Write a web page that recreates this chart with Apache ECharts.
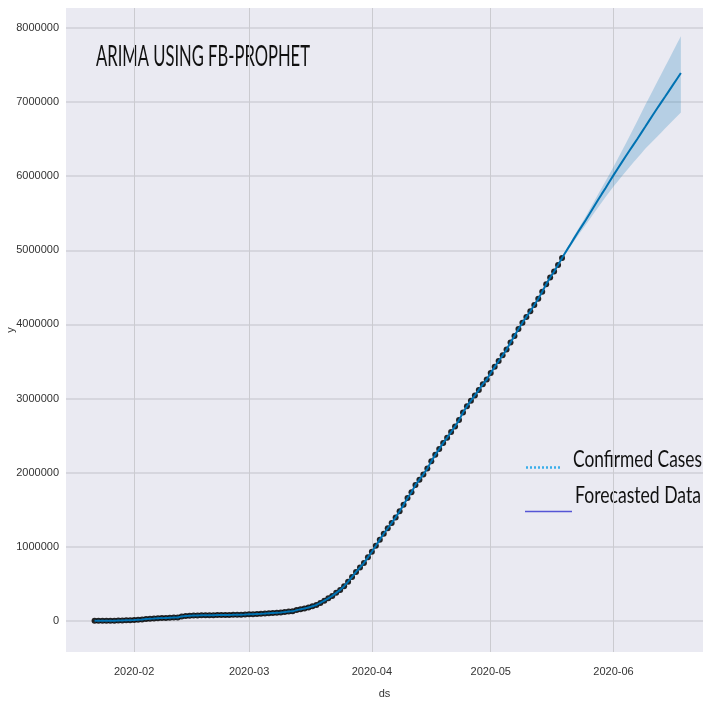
<!DOCTYPE html>
<html>
<head>
<meta charset="utf-8">
<script src="https://cdn.jsdelivr.net/npm/echarts@6/dist/echarts.min.js"></script>
<style>
html,body{margin:0;padding:0;background:#fff;}
#chart{width:703px;height:701px;}
</style>
</head>
<body>
<div id="chart"></div>
<script>
// ---- data ----
const startDate = [2020, 0, 22]; // first observed day (2020-01-22)
const confirmed = [555, 654, 941, 1434, 2118, 2927, 5578, 6166, 8234, 9927,
  12038, 16787, 19881, 23892, 27635, 30794, 34391, 37120, 40150, 42762,
  44802, 45221, 60368, 66885, 69030, 71224, 73258, 75136, 75639, 76197,
  76819, 78572, 78958, 79561, 80406, 81388, 82746, 84112, 86011,
  88369, 90306, 92840, 95120, 97886, 101801, 105847, 109821, 113590, 118620,
  125875, 128352, 145205, 156101, 167454, 181574, 197102, 214821, 242570, 272208,
  304507, 336953, 378235, 418045, 467653, 529591, 593291, 660693, 720140, 782389, 857487,
  932605, 1013466, 1095917, 1176060, 1249754, 1321481, 1396476, 1479804, 1565278, 1657526,
  1735650, 1834721, 1904838, 1976191, 2056054, 2152437, 2240190, 2317758, 2401378, 2472258,
  2549123, 2624068, 2708885, 2811193, 2896746, 2971475, 3041764, 3116398, 3193886, 3256846,
  3343777, 3427584, 3506729, 3583055, 3662691, 3755341, 3845718, 3938064, 4024009, 4101699,
  4177502, 4261747, 4347018, 4442163, 4542347, 4634068, 4713620, 4801943, 4897492];
// forecast (2020-05-20 .. 2020-06-18)
const forecast = [4985000, 5070000, 5158000, 5243000, 5327000, 5410000, 5497000, 5585000, 5672000, 5758000,
  5842000, 5928000, 6015000, 6098000, 6180000, 6262000, 6343000, 6423000, 6503000, 6585000,
  6667000, 6750000, 6832000, 6913000, 6993000, 7072000, 7152000, 7232000, 7312000, 7392000];
const forecastUpper = [5005000, 5097000, 5190000, 5281000, 5370000, 5460000, 5555000, 5650000, 5745000, 5840000,
  5935000, 6030000, 6128000, 6230000, 6330000, 6432000, 6535000, 6640000, 6745000, 6852000,
  6960000, 7063000, 7166000, 7270000, 7373000, 7476000, 7580000, 7683000, 7786000, 7890000];
const forecastLower = [4962000, 5040000, 5120000, 5196000, 5270000, 5344000, 5420000, 5497000, 5572000, 5645000,
  5718000, 5790000, 5860000, 5925000, 5992000, 6058000, 6120000, 6185000, 6246000, 6308000,
  6370000, 6425000, 6479000, 6534000, 6588000, 6643000, 6697000, 6752000, 6806000, 6860000];
const yTickStep = 1000000;
const titleText = 'ARIMA USING FB-PROPHET';
const legendLabels = ['Confirmed Cases', 'Forecasted Data'];

// ---- build ----
function dayTs(i) { return new Date(startDate[0], startDate[1], startDate[2] + i).getTime(); }
const nObs = confirmed.length;
const obsData = confirmed.map((v, i) => [dayTs(i), v]);
const lineData = confirmed.concat(forecast).map((v, i) => [dayTs(i), v]);
const bandLower = forecastLower.map((v, i) => [dayTs(nObs + i), v]);
const bandDiff = forecastUpper.map((v, i) => [dayTs(nObs + i), v - forecastLower[i]]);

const xMin = new Date(2020, 0, 14, 19).getTime();
const xMax = new Date(2020, 5, 23, 14).getTime();

function fitScale(text, font, w) {
  const c = document.createElement('canvas').getContext('2d');
  c.font = font;
  return w / c.measureText(text).width;
}
const titleFont = '28px Lato';
const legFont = '24px Lato';
const tickFont = 'Liberation Sans';

const chart = echarts.init(document.getElementById('chart'), null, {renderer: 'canvas'});
chart.setOption({
  animation: false,
  backgroundColor: '#ffffff',
  grid: {left: 66, right: 0, top: 8, bottom: 49, show: true, backgroundColor: '#EAEAF2', borderWidth: 0,
         containLabel: false, outerBoundsMode: 'none'},
  xAxis: {
    type: 'time', min: xMin, max: xMax,
    minInterval: 28 * 86400000, maxInterval: 31 * 86400000,
    name: 'ds', nameLocation: 'middle', nameGap: 36, nameMoveOverlap: false,
    nameTextStyle: {fontFamily: tickFont, fontSize: 11, color: '#333'},
    axisLine: {show: false}, axisTick: {show: false},
    axisLabel: {
      fontFamily: tickFont, fontSize: 11, color: '#333', margin: 14,
      showMinLabel: false, showMaxLabel: false,
      formatter: function (v) { const d = new Date(v); return d.getFullYear() + '-' + String(d.getMonth() + 1).padStart(2, '0'); }
    },
    splitLine: {show: true, showMinLine: false, showMaxLine: false, lineStyle: {color: '#cbcbd0', width: 1}}
  },
  yAxis: {
    type: 'value', min: -420000, max: 8270000, splitNumber: 9,
    name: 'y', nameLocation: 'middle', nameGap: 50, nameRotate: 90, nameMoveOverlap: false,
    nameTextStyle: {fontFamily: tickFont, fontSize: 11, color: '#333'},
    axisLine: {show: false}, axisTick: {show: false},
    axisLabel: {
      fontFamily: tickFont, fontSize: 11, color: '#333', margin: 7,
      showMinLabel: false, showMaxLabel: false,
      formatter: function (v) { return (v % yTickStep === 0) ? String(v) : ''; }
    },
    splitLine: {show: true, showMinLine: false, showMaxLine: false, lineStyle: {color: '#cfcfd7', width: 1.5}}
  },
  series: [
    {type: 'line', name: 'lower', data: bandLower, stack: 'band', symbol: 'none',
     lineStyle: {opacity: 0}, z: 1, silent: true},
    {type: 'line', name: 'band', data: bandDiff, stack: 'band', symbol: 'none',
     lineStyle: {opacity: 0}, areaStyle: {color: '#0072B2', opacity: 0.22}, z: 1, silent: true},
    {type: 'scatter', name: 'Confirmed Cases', data: obsData, symbolSize: 6,
     itemStyle: {color: '#000', opacity: 0.85}, z: 2},
    {type: 'line', name: 'Forecasted Data', data: lineData, symbol: 'none',
     lineStyle: {color: '#0072B2', width: 2}, z: 3}
  ],
  graphic: [
    {type: 'text', x: 96, y: 43, scaleX: fitScale(titleText, titleFont, 214),
     style: {text: titleText, font: titleFont, fill: '#111', verticalAlign: 'top'}},
    {type: 'line', shape: {x1: 526, y1: 467.5, x2: 561, y2: 467.5},
     style: {stroke: '#3aaeea', lineWidth: 2.5, lineDash: [2, 2]}},
    {type: 'text', x: 573, y: 447, scaleX: fitScale(legendLabels[0], legFont, 129),
     style: {text: legendLabels[0], font: legFont, fill: '#111', verticalAlign: 'top'}},
    {type: 'line', shape: {x1: 525, y1: 511.5, x2: 572, y2: 511.5},
     style: {stroke: '#5555d5', lineWidth: 1.6}},
    {type: 'text', x: 575, y: 483, scaleX: fitScale(legendLabels[1], legFont, 126),
     style: {text: legendLabels[1], font: legFont, fill: '#111', verticalAlign: 'top'}}
  ]
});
</script>
</body>
</html>
